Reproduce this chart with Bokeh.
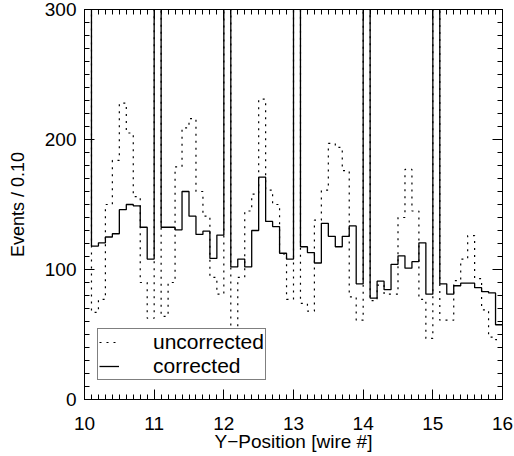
import numpy as np
from bokeh.plotting import figure
from bokeh.models import (Range1d, LinearAxis, SingleIntervalTicker, Legend,
                          LegendItem, CustomJSTickFormatter)
from bokeh.embed import file_html
from bokeh.resources import INLINE

# ---- data (bins of width 0.10 from 10.0 to 16.0) ----
bin_lo = [10.0, 10.1, 10.2, 10.3, 10.4, 10.5, 10.6, 10.7, 10.8, 10.9,
          11.0, 11.1, 11.2, 11.3, 11.4, 11.5, 11.6, 11.7, 11.8, 11.9,
          12.0, 12.1, 12.2, 12.3, 12.4, 12.5, 12.6, 12.7, 12.8, 12.9,
          13.0, 13.1, 13.2, 13.3, 13.4, 13.5, 13.6, 13.7, 13.8, 13.9,
          14.0, 14.1, 14.2, 14.3, 14.4, 14.5, 14.6, 14.7, 14.8, 14.9,
          15.0, 15.1, 15.2, 15.3, 15.4, 15.5, 15.6, 15.7, 15.8, 15.9]
bin_hi_last = 16.0

# off-scale bins (wire boundaries) read as > 300
corrected = [420, 118, 120.5, 125, 127.5, 146, 150, 149, 132.5, 108,
             420, 132.5, 132.5, 130.5, 160, 141, 127, 129.5, 108.5, 126.5,
             420, 102, 108, 102, 130, 171, 137, 133, 112.5, 108,
             420, 117.5, 113, 105, 135.5, 125.5, 117.5, 125.5, 133.5, 89,
             420, 78, 91, 84.5, 104, 110.5, 101, 106, 120.5, 81,
             420, 89, 81, 87.5, 89.5, 89.5, 86, 83, 82, 57.5]

uncorrected = [420, 67, 77, 150, 184, 228, 205, 156, 90, 62.5,
               420, 64, 90, 179, 209, 216, 160, 141, 94, 81,
               420, 52, 94, 145, 158, 231, 161, 150, 112, 77,
               420, 74, 68, 138, 161, 197, 194, 176, 79, 61,
               420, 76, 88, 81, 81, 140, 177, 145, 77, 47,
               420, 61, 61, 91.5, 108, 126, 93, 69, 48, 46]

x_edges = bin_lo + [bin_hi_last]
y_corr = corrected + [corrected[-1]]
y_unc = uncorrected + [uncorrected[-1]]

FONT = "Liberation Sans"

p = figure(width=514, height=456, x_range=Range1d(10, 16), y_range=Range1d(0, 300),
           output_backend="svg", toolbar_location=None,
           min_border_left=84, min_border_right=12, min_border_top=9, min_border_bottom=57)
p.background_fill_color = "white"
p.border_fill_color = "white"
p.outline_line_color = "black"
p.grid.visible = False

r_unc = p.step(x=x_edges, y=y_unc, mode="after", line_color="black",
               line_width=1.2, line_dash="2 5")
r_cor = p.step(x=x_edges, y=y_corr, mode="after", line_color="black", line_width=1.3)

def style_axis(ax):
    ax.axis_line_color = "black"
    ax.major_tick_line_color = "black"
    ax.minor_tick_line_color = "black"
    ax.major_tick_in = 10
    ax.major_tick_out = 0
    ax.minor_tick_in = 5
    ax.minor_tick_out = 0
    ax.major_label_text_color = "black"
    ax.axis_label_text_color = "black"

xa = p.xaxis[0]
xa.ticker = SingleIntervalTicker(interval=1, num_minor_ticks=10)
style_axis(xa)
xa.axis_label = "Y\u2212Position [wire #]"
xa.axis_label_text_font = FONT
xa.axis_label_text_font_style = "normal"
xa.axis_label_text_font_size = "19px"
xa.axis_label_standoff = -2
xa.major_label_text_font = FONT
xa.major_label_text_font_size = "19px"
xa.major_label_standoff = 17

ya = p.yaxis[0]
ya.ticker = SingleIntervalTicker(interval=100, num_minor_ticks=10)
style_axis(ya)
ya.axis_label = "Events / 0.10"
ya.axis_label_text_font = FONT
ya.axis_label_text_font_style = "normal"
ya.axis_label_text_font_size = "18px"
ya.axis_label_standoff = 14
ya.major_label_text_font = FONT
ya.major_label_text_font_size = "19px"
ya.major_label_standoff = 8

top = LinearAxis(ticker=SingleIntervalTicker(interval=1, num_minor_ticks=10),
                 formatter=CustomJSTickFormatter(code="return ''"),
                 major_label_text_font_size="0px", major_label_standoff=0)
style_axis(top)
p.add_layout(top, "above")

right = LinearAxis(ticker=SingleIntervalTicker(interval=100, num_minor_ticks=10),
                   formatter=CustomJSTickFormatter(code="return ''"),
                   major_label_text_font_size="0px", major_label_standoff=0)
style_axis(right)
p.add_layout(right, "right")

legend = Legend(items=[LegendItem(label="uncorrected", renderers=[r_unc]),
                       LegendItem(label="corrected", renderers=[r_cor])],
                location=(13, 19))
legend.label_text_font = FONT
legend.label_text_font_size = "21px"
legend.label_text_color = "black"
legend.border_line_color = "black"
legend.border_line_width = 1
legend.background_fill_alpha = 1.0
legend.padding = 1
legend.spacing = 0
legend.glyph_width = 20
legend.glyph_height = 18
legend.label_height = 18
legend.label_standoff = 34
legend.margin = 0
p.add_layout(legend, "center")

open("out.html", "w").write(file_html(p, INLINE))
